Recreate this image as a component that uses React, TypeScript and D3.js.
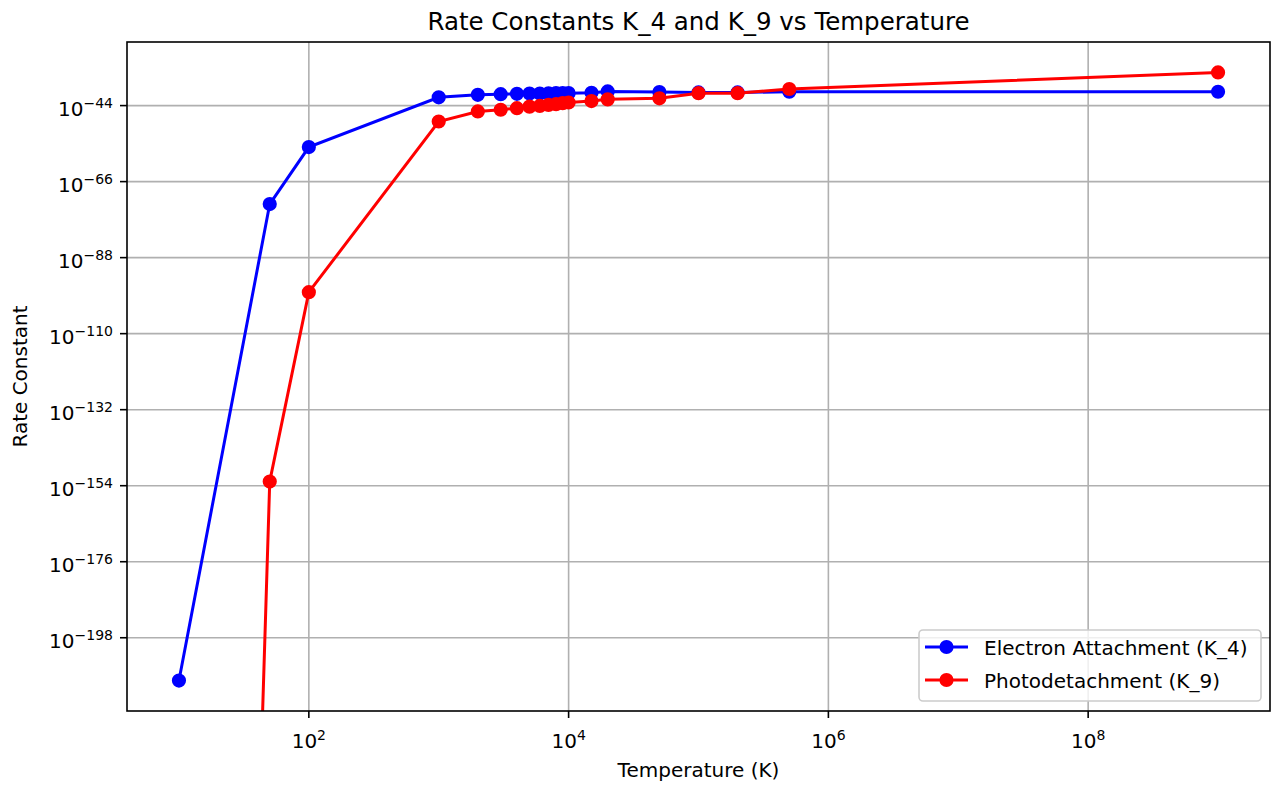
import * as d3 from 'd3';

// temperatures (K) shared by both series
const temperatures = [
  10, 50, 100, 1000, 2000, 3000, 4000, 5000, 6000, 7000, 8000, 9000, 10000,
  15000, 20000, 50000, 1e5, 2e5, 5e5, 1e9,
];

// K_4, electron attachment
const k4Values = [
  4.0e-211, 3.2e-73, 1.0e-56, 2.5e-42, 1.3e-41, 2.0e-41, 2.5e-41, 3.2e-41,
  3.2e-41, 3.5e-41, 4.0e-41, 4.0e-41, 4.0e-41, 5.0e-41, 1.26e-40, 7.9e-41,
  6.3e-41, 6.3e-41, 1.0e-40, 1.0e-40,
];

// K_9, photodetachment (underflows to 0 at 10 K)
const k9Values = [
  0, 1.6e-153, 1.0e-98, 2.5e-49, 2.0e-46, 6.3e-46, 1.8e-45, 5.0e-45, 7.9e-45,
  1.6e-44, 2.5e-44, 5.0e-44, 7.9e-44, 2.0e-43, 6.3e-43, 1.26e-42, 4.0e-41,
  4.0e-41, 6.3e-40, 4.0e-35,
];

const seriesNames = ['Electron Attachment (K_4)', 'Photodetachment (K_9)'];
const seriesColors = ['#0000ff', '#ff0000'];

const xTickExponents = [2, 4, 6, 8];
const yTickExponents = [-44, -66, -88, -110, -132, -154, -176, -198];

const W = 1276;
const H = 785;
const margin = { top: 42, right: 6, bottom: 74, left: 127 };
const FONT = 'DejaVu Sans, Liberation Sans, sans-serif';

export default function App() {
  const left = margin.left;
  const right = W - margin.right;
  const top = margin.top;
  const bottom = H - margin.bottom;

  // matplotlib style 5% margins in log space
  const [tMin, tMax] = d3.extent(temperatures) as [number, number];
  const xSpan = Math.log10(tMax / tMin);
  const x = d3
    .scaleLog()
    .domain([tMin * 10 ** (-0.05 * xSpan), tMax * 10 ** (0.05 * xSpan)])
    .range([left, right]);

  const logs = [...k4Values, ...k9Values].filter((v) => v > 0).map(Math.log10);
  const [lo, hi] = d3.extent(logs) as [number, number];
  const pad = (hi - lo) * 0.05;
  const yExp = d3.scaleLinear().domain([lo - pad, hi + pad]).range([bottom, top]);
  // non-positive values are clipped far below the axis, like matplotlib
  const y = (v: number) => yExp(v > 0 ? Math.log10(v) : -1000);

  const line = d3
    .line<number>()
    .x((_, i) => x(temperatures[i]))
    .y((d) => y(d));

  const series = [k4Values, k9Values];

  const legendX = 919;
  const legendY = 630;
  const legendW = 342;
  const legendH = 71;

  return (
    <svg
      width={W}
      height={H}
      style={{ position: 'absolute', left: 0, top: 0, background: '#fff' }}
      fontFamily={FONT}
    >
      <defs>
        <clipPath id="plot">
          <rect x={left} y={top} width={right - left} height={bottom - top} />
        </clipPath>
      </defs>
      <rect width={W} height={H} fill="#fff" />

      {/* grid */}
      <g stroke="#b0b0b0" strokeWidth={1.6}>
        {xTickExponents.map((e) => (
          <line key={'gx' + e} x1={x(10 ** e)} x2={x(10 ** e)} y1={top} y2={bottom} />
        ))}
        {yTickExponents.map((e) => (
          <line key={'gy' + e} x1={left} x2={right} y1={yExp(e)} y2={yExp(e)} />
        ))}
      </g>

      {/* data */}
      <g clipPath="url(#plot)">
        {series.map((vals, s) => (
          <g key={s}>
            <path d={line(vals) ?? ''} fill="none" stroke={seriesColors[s]} strokeWidth={3} />
            {vals.map((v, i) => (
              <circle
                key={i}
                cx={x(temperatures[i])}
                cy={y(v)}
                r={6.1}
                fill={seriesColors[s]}
                stroke={seriesColors[s]}
                strokeWidth={2}
              />
            ))}
          </g>
        ))}
      </g>

      {/* spines */}
      <rect
        x={left}
        y={top}
        width={right - left}
        height={bottom - top}
        fill="none"
        stroke="#000"
        strokeWidth={1.6}
      />

      {/* x ticks */}
      {xTickExponents.map((e) => (
        <g key={'xt' + e} transform={`translate(${x(10 ** e)},${bottom})`}>
          <line y1={0} y2={7} stroke="#000" strokeWidth={1.6} />
          <text y={37} textAnchor="middle" fontSize={20} fill="#000">
            10
            <tspan dy={-8} fontSize={14}>
              {e}
            </tspan>
          </text>
        </g>
      ))}

      {/* y ticks */}
      {yTickExponents.map((e) => (
        <g key={'yt' + e} transform={`translate(${left},${yExp(e)})`}>
          <line x1={-7} x2={0} stroke="#000" strokeWidth={1.6} />
          <text x={-14} y={10} textAnchor="end" fontSize={20} fill="#000">
            10
            <tspan dy={-8} fontSize={14}>
              {'\u2212' + Math.abs(e)}
            </tspan>
          </text>
        </g>
      ))}

      {/* labels */}
      <text x={(left + right) / 2} y={30} textAnchor="middle" fontSize={24.5} fill="#000">
        Rate Constants K_4 and K_9 vs Temperature
      </text>
      <text x={(left + right) / 2} y={777} textAnchor="middle" fontSize={20} fill="#000">
        Temperature (K)
      </text>
      <text
        transform={`translate(27,${(top + bottom) / 2}) rotate(-90)`}
        textAnchor="middle"
        fontSize={20}
        fill="#000"
      >
        Rate Constant
      </text>

      {/* legend */}
      <g>
        <rect
          x={legendX}
          y={legendY}
          width={legendW}
          height={legendH}
          rx={4}
          fill="#fff"
          fillOpacity={0.8}
          stroke="#cccccc"
          strokeWidth={1.6}
        />
        {seriesNames.map((name, i) => {
          const ly = legendY + 17 + i * 33;
          return (
            <g key={name}>
              <line x1={925} x2={968} y1={ly} y2={ly} stroke={seriesColors[i]} strokeWidth={3} />
              <circle cx={946.5} cy={ly} r={6.1} fill={seriesColors[i]} stroke={seriesColors[i]} strokeWidth={2} />
              <text x={984} y={ly + 7.5} fontSize={20} fill="#000">
                {name}
              </text>
            </g>
          );
        })}
      </g>
    </svg>
  );
}
